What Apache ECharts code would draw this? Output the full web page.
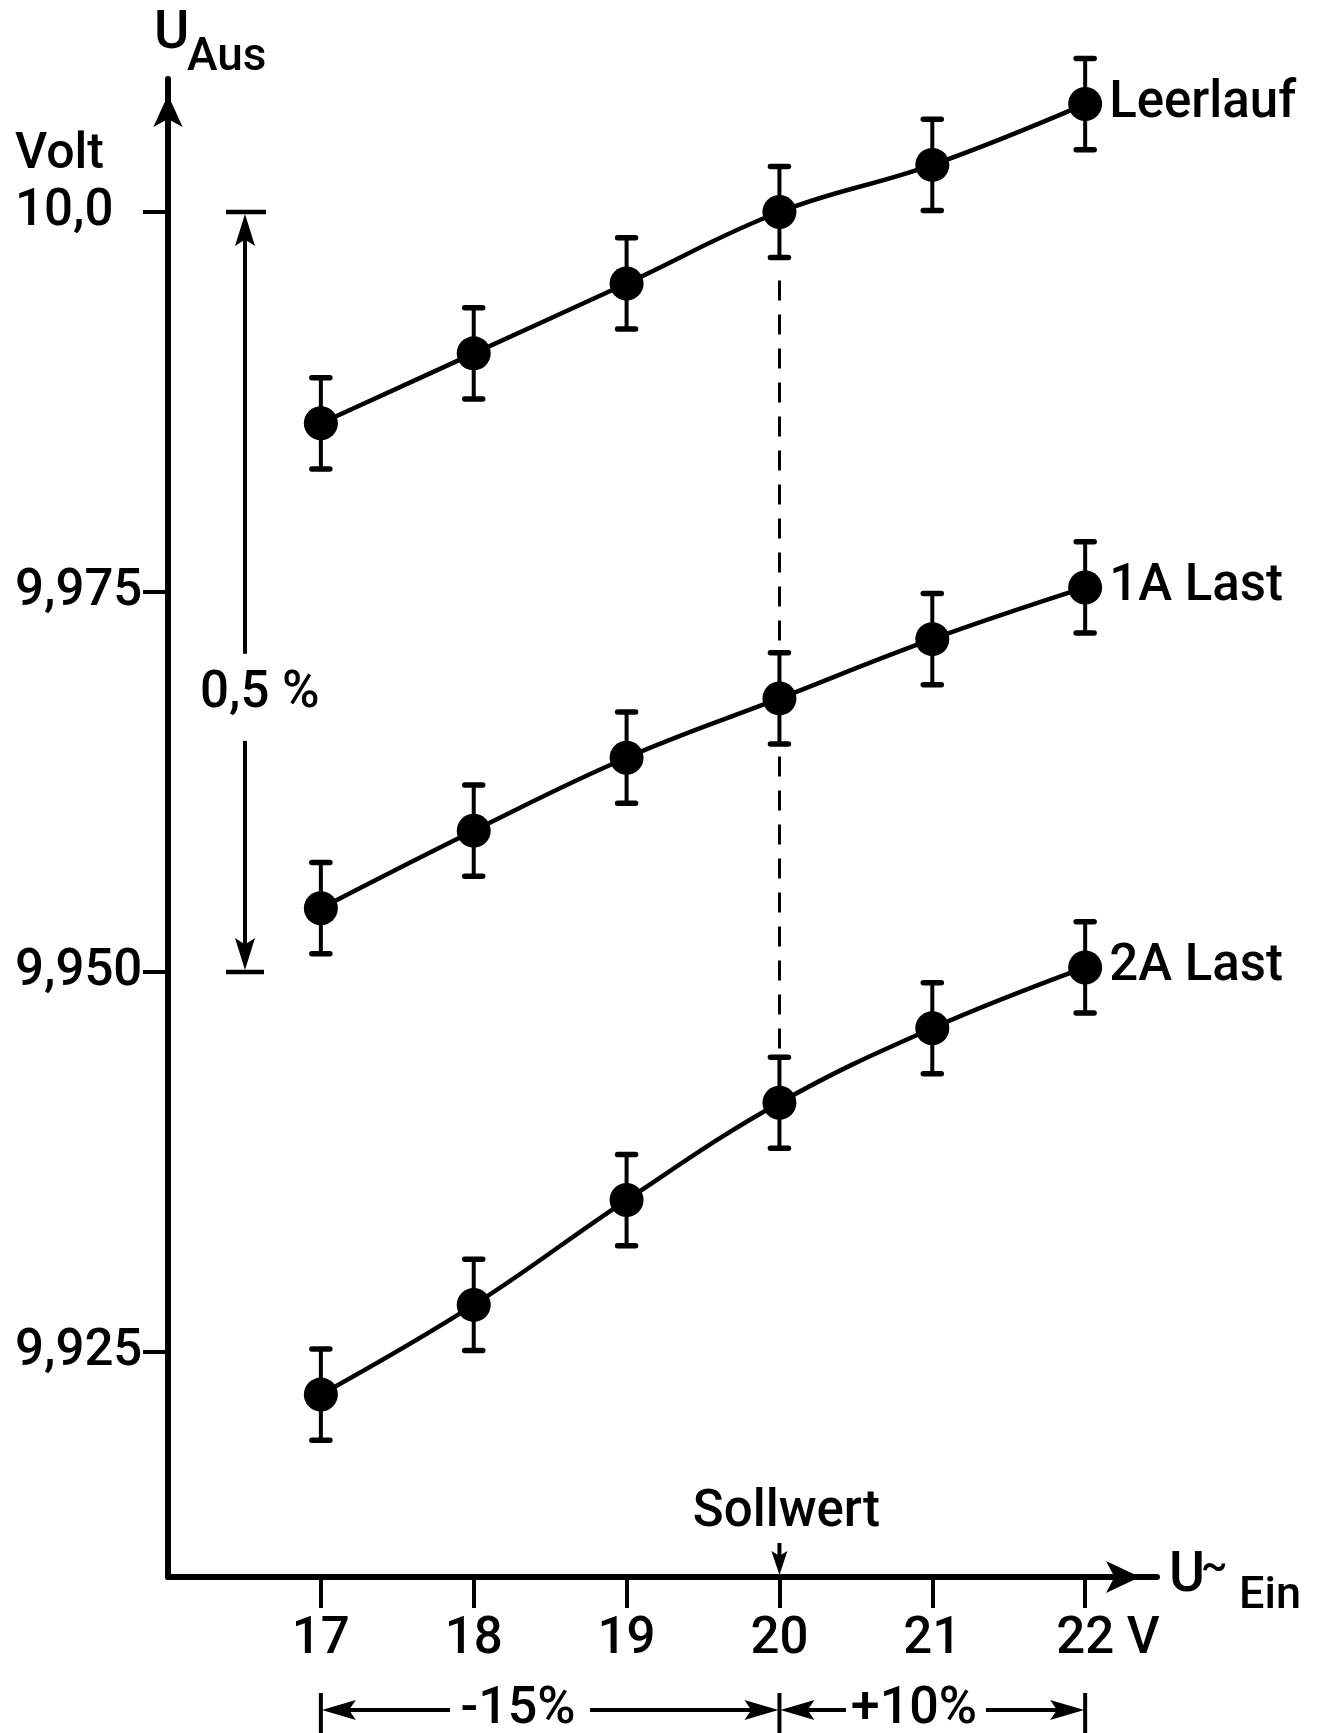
<!DOCTYPE html>
<html><head><meta charset="utf-8">
<script src="https://cdn.jsdelivr.net/npm/echarts@6/dist/echarts.min.js"></script>
<style>html,body{margin:0;padding:0;background:#fff}#c{width:1322px;height:1733px}</style>
</head><body><div id="c"></div><script>
// ---- data ----
const inputVoltage = [17, 18, 19, 20, 21, 22];
const leerlauf = [9.9861, 9.9907, 9.9953, 10.0000, 10.0031, 10.0071];
const last1A   = [9.9542, 9.9593, 9.9641, 9.9680, 9.9719, 9.9753];
const last2A   = [9.9222, 9.9281, 9.9350, 9.9414, 9.9463, 9.9503];
const errorHalf = 0.003;
const seriesNames = ['Leerlauf', '1A Last', '2A Last'];
const yTickValues = [9.925, 9.95, 9.975, 10.0];
const yTickLabels = ['9,925', '9,950', '9,975', '10,0'];
const xTickValues = [17, 18, 19, 20, 21, 22];
const xTickLabels = ['17', '18', '19', '20', '21', '22'];
const xUnit = 'V';
const sollwert = 20;
const dashRange = [9.9955, 9.9444];
const spanTop = 10.0, spanBottom = 9.95, spanText = '0,5 %', spanTextAt = 9.9683;
const tolLow = 17, tolNominal = 20, tolHigh = 22, tolLowText = '-15%', tolHighText = '+10%';

const FONT = 'Roboto, "DejaVu Sans", sans-serif';
const FW = 500;
const chart = echarts.init(document.getElementById('c'), null, {renderer: 'canvas'});

function lineSeries(name, vals, extra) {
  return Object.assign({
    name: name, type: 'line', z: 4,
    data: inputVoltage.map((x, i) => [x, vals[i]]),
    smooth: 0.4, symbol: 'circle', symbolSize: 34,
    itemStyle: {color: '#000'},
    lineStyle: {color: '#000', width: 4.5},
    endLabel: {show: true, formatter: name, distance: 24, fontSize: 51, fontWeight: FW, fontFamily: FONT, color: '#000'},
    animation: false
  }, extra || {});
}
function errorSeries(vals) {
  return {
    type: 'custom', z: 3, silent: true, animation: false,
    encode: {x: 0, y: [1, 2]},
    data: inputVoltage.map((x, i) => [x, vals[i] - errorHalf, vals[i] + errorHalf]),
    renderItem: function (params, api) {
      const x = api.value(0);
      const lo = api.coord([x, api.value(1)]);
      const hi = api.coord([x, api.value(2)]);
      const w = 9;
      const st = {stroke: '#000', lineWidth: 4};
      const cap = {stroke: '#000', lineWidth: 5.5, lineCap: 'round'};
      return {type: 'group', children: [
        {type: 'line', shape: {x1: lo[0], y1: lo[1], x2: hi[0], y2: hi[1]}, style: st},
        {type: 'line', shape: {x1: lo[0] - w, y1: lo[1], x2: lo[0] + w, y2: lo[1]}, style: cap},
        {type: 'line', shape: {x1: hi[0] - w, y1: hi[1], x2: hi[0] + w, y2: hi[1]}, style: cap}
      ]};
    }
  };
}
function findIdx(arr, v) { return arr.findIndex(a => Math.abs(a - v) < 1e-6); }

const option = {
  backgroundColor: '#fff',
  animation: false,
  grid: {left: 168, right: 165, top: 79, bottom: 156, containLabel: false, outerBoundsMode: 'none'},
  xAxis: {
    type: 'value', min: 16, max: 22.47,
    axisLine: {show: true, lineStyle: {color: '#000', width: 6}, symbol: ['none', 'arrow'], symbolSize: [24, 34], symbolOffset: [0, -17]},
    axisTick: {show: true, customValues: xTickValues, length: 31, lineStyle: {color: '#000', width: 4}},
    axisLabel: {
      customValues: xTickValues, margin: 38, fontSize: 51, fontWeight: FW, fontFamily: FONT, color: '#000',
      formatter: function (v) {
        const i = findIdx(xTickValues, v);
        if (i < 0) return '';
        if (i === xTickValues.length - 1) return '{g| ' + xUnit + '}' + xTickLabels[i] + ' ' + xUnit;
        return xTickLabels[i];
      },
      rich: {g: {color: 'rgba(0,0,0,0)', fontSize: 51, fontWeight: FW, fontFamily: FONT}}
    },
    splitLine: {show: false}
  },
  yAxis: {
    type: 'value', min: 9.9102, max: 10.00875,
    axisLine: {show: true, lineStyle: {color: '#000', width: 6}, symbol: ['none', 'arrow'], symbolSize: [22, 32], symbolOffset: [0, -16]},
    axisTick: {show: true, customValues: yTickValues, length: 25, lineStyle: {color: '#000', width: 4}},
    axisLabel: {
      customValues: yTickValues, margin: 153, align: 'left', fontSize: 51, fontWeight: FW, fontFamily: FONT, color: '#000',
      formatter: function (v) { const i = findIdx(yTickValues, v); return i < 0 ? '' : yTickLabels[i]; }
    },
    splitLine: {show: false}
  },
  series: [
    lineSeries(seriesNames[0], leerlauf, {
      markLine: {
        silent: true, symbol: ['none', 'none'], label: {show: false},
        lineStyle: {color: '#000', width: 3, type: [20, 14]},
        data: [[{coord: [sollwert, dashRange[0]]}, {coord: [sollwert, dashRange[1]]}]]
      }
    }),
    lineSeries(seriesNames[1], last1A),
    lineSeries(seriesNames[2], last2A),
    errorSeries(leerlauf), errorSeries(last1A), errorSeries(last2A)
  ]
};
chart.setOption(option);

// ---- annotations, positioned through the chart's own scales ----
const P = (x, y) => chart.convertToPixel({gridIndex: 0}, [x, y]);
const axisY = P(16, 9.9102)[1];
const black = {fill: '#000'};
const g = [];
function txt(x, y, s, size, align, vAlign) {
  g.push({type: 'text', x: x, y: y, z: 10, style: {text: s, fontSize: size, fontWeight: FW, fontFamily: FONT, fill: '#000', align: align || 'left', verticalAlign: vAlign || 'middle'}});
}
function seg(x1, y1, x2, y2, w) {
  g.push({type: 'line', z: 10, shape: {x1, y1, x2, y2}, style: {stroke: '#000', lineWidth: w || 4}});
}
function arrowHead(tx, ty, dir, len, half) {
  let pts;
  if (dir === 'up') pts = [[tx, ty], [tx - half, ty + len], [tx, ty + len * 0.8], [tx + half, ty + len]];
  if (dir === 'down') pts = [[tx, ty], [tx - half, ty - len], [tx, ty - len * 0.8], [tx + half, ty - len]];
  if (dir === 'left') pts = [[tx, ty], [tx + len, ty - half], [tx + len * 0.8, ty], [tx + len, ty + half]];
  if (dir === 'right') pts = [[tx, ty], [tx - len, ty - half], [tx - len * 0.8, ty], [tx - len, ty + half]];
  g.push({type: 'polygon', z: 10, shape: {points: pts}, style: black});
}

// axis titles
txt(154, 34, 'U', 54);
txt(187, 58, 'Aus', 46);
txt(15, 155, 'Volt', 50);
txt(1169, axisY, 'U', 55);
txt(1201, axisY - 8, '~', 40);
txt(1239, axisY + 20, 'Ein', 45);

// 0,5 % span bracket
const bx = 245;
const yT = P(16, spanTop)[1], yB = P(16, spanBottom)[1], yM = P(16, spanTextAt)[1];
seg(bx - 19, yT, bx + 21, yT, 4.5);
seg(bx - 19, yB, bx + 19, yB, 4.5);
seg(bx, yT + 20, bx, yM - 40, 4);
seg(bx, yM + 47, bx, yB - 20, 4);
arrowHead(bx, yT + 2, 'up', 32, 10);
arrowHead(bx, yB - 2, 'down', 32, 10);
txt(bx - 45, yM, spanText, 51);

// Sollwert marker
const xs = P(sollwert, 10)[0];
txt(xs + 7, 1513, 'Sollwert', 51, 'center');
seg(xs, 1543, xs, axisY - 14, 4);
arrowHead(xs, axisY - 2, 'down', 24, 8);

// tolerance brackets
const ty = 1710;
const xL = P(tolLow, 10)[0], xN = P(tolNominal, 10)[0], xH = P(tolHigh, 10)[0];
[xL, xN, xH].forEach(x => seg(x, 1693, x, 1733, 4));
const midL = xL + 0.43 * (xN - xL), midH = xN + 0.44 * (xH - xN);
txt(midL, ty, tolLowText, 52, 'center');
txt(midH, ty, tolHighText, 52, 'center');
seg(xL + 20, ty, midL - 68, ty, 4); arrowHead(xL + 1, ty, 'left', 34, 10);
seg(midL + 72, ty, xN - 20, ty, 4); arrowHead(xN - 1, ty, 'right', 34, 10);
seg(xN + 20, ty, midH - 68, ty, 4); arrowHead(xN + 1, ty, 'left', 34, 10);
seg(midH + 72, ty, xH - 20, ty, 4); arrowHead(xH - 1, ty, 'right', 34, 10);

chart.setOption({graphic: {elements: g}});
</script></body></html>
